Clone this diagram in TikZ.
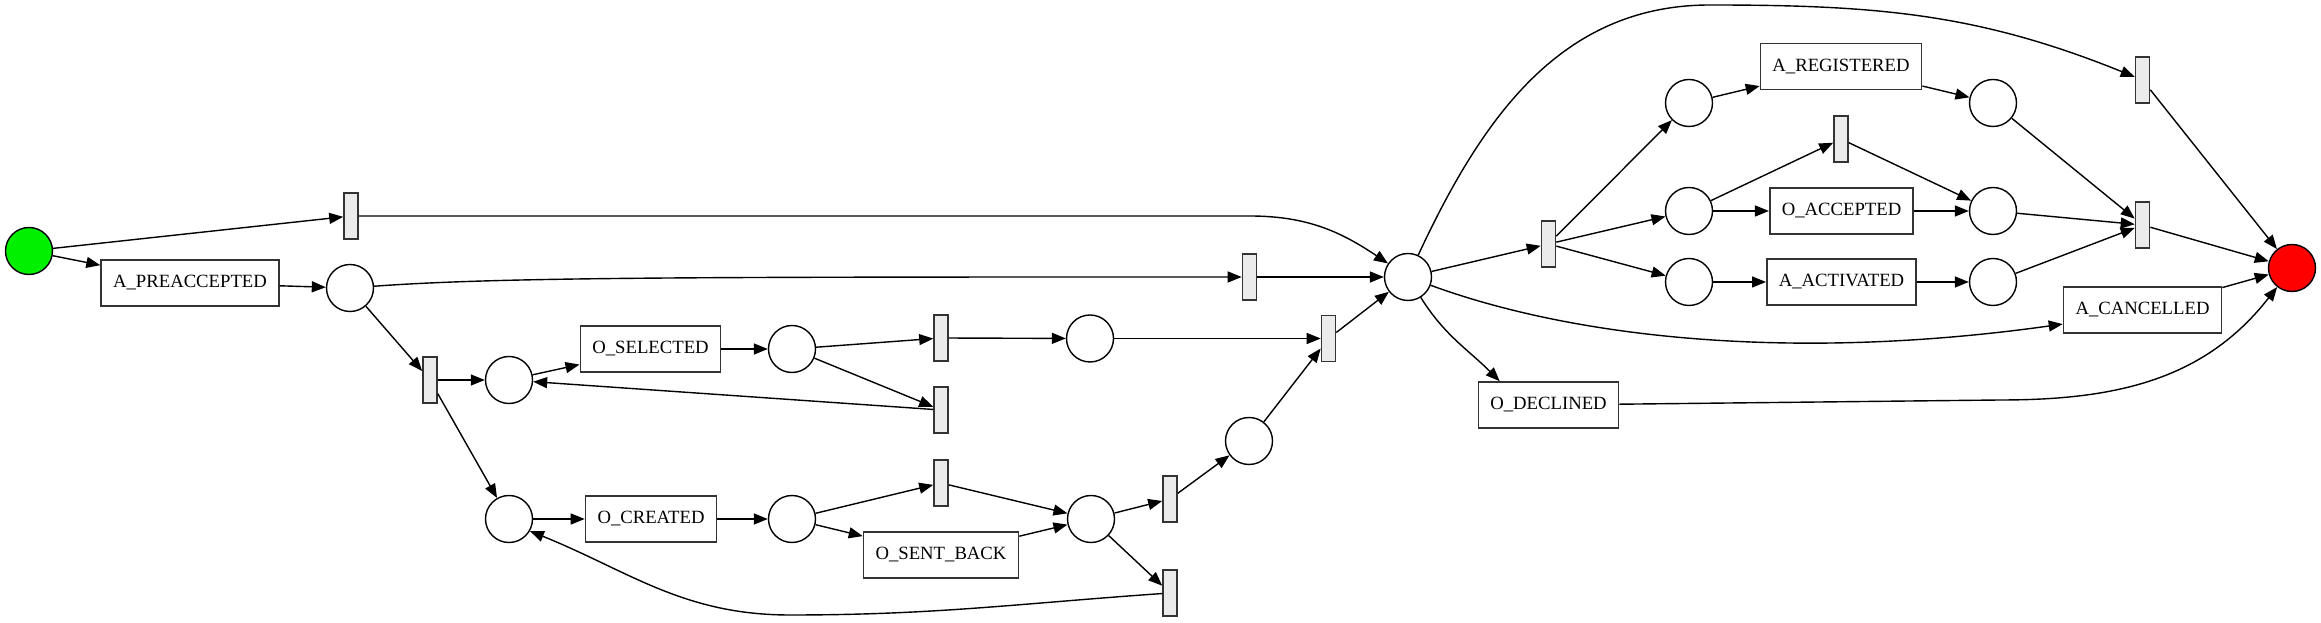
\documentclass[tikz,border=0pt]{standalone}
\usepackage{fontspec}
\setmainfont{Liberation Serif}
\usetikzlibrary{arrows.meta,positioning,calc}
\definecolor{trfill}{HTML}{EBEBEB}
\definecolor{frame}{HTML}{333333}
\definecolor{srcgreen}{HTML}{00F000}
\definecolor{snkred}{HTML}{FF0000}

\begin{document}
\begin{tikzpicture}[x=1pt,y=1pt,
  pl/.style={circle,draw=black,line width=1.4pt,fill=white,minimum size=47pt,inner sep=0pt},
  tr/.style={rectangle,draw=frame,line width=1.6pt,fill=trfill,minimum width=14pt,minimum height=46pt,inner sep=0pt},
  act/.style={rectangle,draw=frame,line width=1.6pt,fill=white,minimum height=46pt,inner xsep=12pt,inner ysep=0pt,font=\fontsize{18.7}{22}\selectfont},
  arr/.style={-{Triangle[length=14pt,width=11pt]},line width=1.4pt}]
\useasboundingbox (0,0) rectangle (2321,623);
\node[pl,fill=srcgreen] (src) at (29,372) {};
\node[act] (apre) at (190,340) {A\_PREACCEPTED};
\node[pl] (p1) at (350,335) {};
\node[tr] (t1) at (351,407) {};
\node[tr] (t2) at (430,243) {};
\node[pl] (p2) at (509,243) {};
\node[act] (osel) at (650.5,274) {O\_SELECTED};
\node[pl] (p3) at (792,274) {};
\node[tr] (t3) at (941,285) {};
\node[tr] (t4) at (941,213) {};
\node[pl] (p4) at (1090,284.5) {};
\node[tr] (t5) at (1328.5,284.5) {};
\node[tr] (t6) at (1249.5,346) {};
\node[pl] (hub) at (1408,346) {};
\node[pl] (p5) at (509,104) {};
\node[act] (ocre) at (651,104) {O\_CREATED};
\node[pl] (p6) at (792,104) {};
\node[tr] (t7) at (941,140) {};
\node[act] (osb) at (941,68) {O\_SENT\_BACK};
\node[pl] (p7) at (1091,104) {};
\node[tr] (t8) at (1170,124) {};
\node[tr] (t9) at (1170,30) {};
\node[pl] (p8) at (1249,182) {};
\node[act] (odec) at (1548.5,218) {O\_DECLINED};
\node[tr] (t10) at (1548.5,379) {};
\node[pl] (p9) at (1689,520) {};
\node[pl] (p10) at (1689,412) {};
\node[pl] (p11) at (1689,341) {};
\node[act] (areg) at (1841,556.5) {A\_REGISTERED};
\node[tr] (t11) at (1841,484) {};
\node[act] (oacc) at (1841.5,412) {O\_ACCEPTED};
\node[act] (aact) at (1841.5,341) {A\_ACTIVATED};
\node[pl] (p12) at (1993,520) {};
\node[pl] (p13) at (1993,412) {};
\node[pl] (p14) at (1993,341) {};
\node[tr] (t12) at (2142.5,543) {};
\node[tr] (t13) at (2142.5,398) {};
\node[act] (acan) at (2142.5,313) {A\_CANCELLED};
\node[pl,fill=snkred] (snk) at (2292,355) {};
\coordinate (arctop) at (1710,618);
\coordinate (declbend) at (2000,223);
\coordinate (looplow) at (790,8);
\draw[arr] (src) -- (t1);
\draw[arr] (src) -- (apre);
\draw[arr] (apre) -- (p1);
\draw[arr] (t1) -- (t1 -| t6) to[out=0,in=146] (hub);
\draw[arr] (p1) .. controls (500,346) and (700,346) .. (t6);
\draw[arr] (t6) -- (hub);
\draw[arr] (p1) -- (t2);
\draw[arr] (t2) -- (p2);
\draw[arr] (t2) -- (p5);
\draw[arr] (p2) -- (osel);
\draw[arr] (osel) -- (p3);
\draw[arr] (p3) -- (t3);
\draw[arr] (p3) -- (t4);
\draw[arr] (t4) -- (p2);
\draw[arr] (t3) -- (p4);
\draw[arr] (p4) -- (t5);
\draw[arr] (p8) -- (t5);
\draw[arr] (t5) -- (hub);
\draw[arr] (p5) -- (ocre);
\draw[arr] (ocre) -- (p6);
\draw[arr] (p6) -- (t7);
\draw[arr] (p6) -- (osb);
\draw[arr] (t7) -- (p7);
\draw[arr] (osb) -- (p7);
\draw[arr] (p7) -- (t8);
\draw[arr] (p7) -- (t9);
\draw[arr] (t8) -- (p8);
\draw[arr] (t9) to[out=184,in=0] (looplow) to[out=180,in=-22] (p5.330);
\draw[arr] (hub) -- (t10);
\draw[arr] (hub) to[out=65,in=180] (arctop) to[out=0,in=158] (t12);
\draw[arr] (hub) .. controls (1580,283) and (1800,262) .. (acan.190);
\draw[arr] (hub) to[out=-58,in=135] (odec.154);
\draw[arr] (t10) -- (p9);
\draw[arr] (t10) -- (p10);
\draw[arr] (t10) -- (p11);
\draw[arr] (p9) -- (areg);
\draw[arr] (areg) -- (p12);
\draw[arr] (p10) -- (t11);
\draw[arr] (t11) -- (p13);
\draw[arr] (p10) -- (oacc);
\draw[arr] (oacc) -- (p13);
\draw[arr] (p11) -- (aact);
\draw[arr] (aact) -- (p14);
\draw[arr] (p12) -- (t13);
\draw[arr] (p13) -- (t13);
\draw[arr] (p14) -- (t13);
\draw[arr] (t13) -- (snk);
\draw[arr] (t12) -- (snk);
\draw[arr] (acan) -- (snk);
\draw[arr] (odec) -- (declbend) to[out=0,in=232] (snk.232);
\end{tikzpicture}
\end{document}
